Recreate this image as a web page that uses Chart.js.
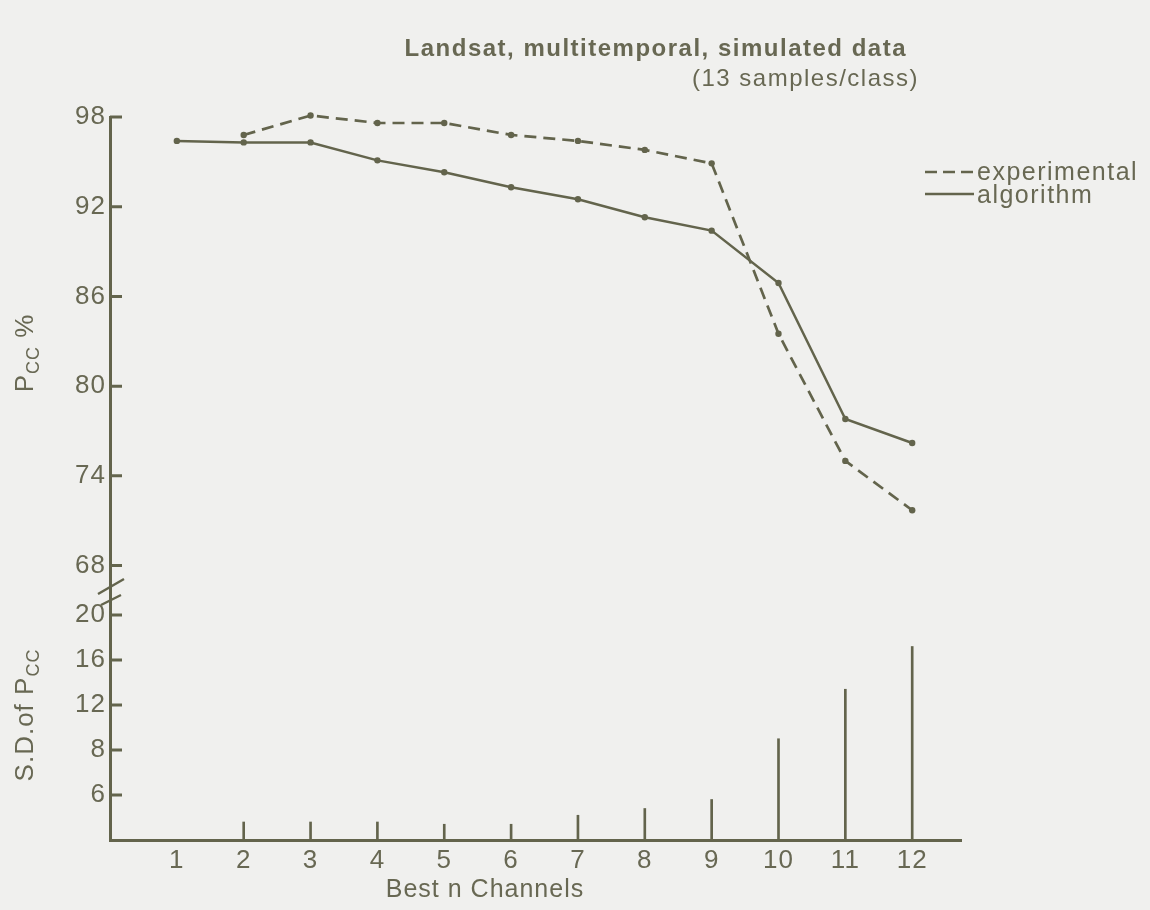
<!DOCTYPE html>
<html>
<head>
<meta charset="utf-8">
<title>Landsat, multitemporal, simulated data</title>
<script src="https://cdn.jsdelivr.net/npm/chart.js@4.4.1/dist/chart.umd.min.js"></script>
<style>
  html, body { margin: 0; padding: 0; background: #f0f0ee; }
  #wrap { width: 1150px; height: 910px; }
</style>
</head>
<body>
<div id="wrap"><canvas id="chart" width="1150" height="910"></canvas></div>
<script>
// valores
const channels = [1, 2, 3, 4, 5, 6, 7, 8, 9, 10, 11, 12];
const algorithm = [96.4, 96.3, 96.3, 95.1, 94.3, 93.3, 92.5, 91.3, 90.4, 86.9, 77.8, 76.2];
const experimental = [null, 96.8, 98.1, 97.6, 97.6, 96.8, 96.4, 95.8, 94.9, 83.5, 75.0, 71.7];
const sdValues = [null, 4.8, 4.8, 4.8, 4.7, 4.7, 5.1, 5.4, 5.8, 9.0, 13.4, 17.2];

const pccTicks = [98, 92, 86, 80, 74, 68];
// o eixo do desvio padrao nao e linear: cada marca fica a mesma distancia
const sdStops = [4, 6, 8, 12, 16, 20];

const ink = "#63644c";
const textInk = "#686853";
const font = "'Liberation Sans', Arial, sans-serif";

// posicao no eixo de baixo (0..5) a partir do valor de S.D.
function toSdPos(v) {
    for (let i = 1; i < sdStops.length; i++) {
        if (v <= sdStops[i]) {
            return i - 1 + (v - sdStops[i - 1]) / (sdStops[i] - sdStops[i - 1]);
        }
    }
    return sdStops.length - 1;
}

const sdBars = [];
sdValues.forEach((v, i) => {
    if (v !== null) sdBars.push({ x: channels[i], y: toSdPos(v) });
});

const extras = {
    id: "extras",
    beforeDraw(chart) {
        chart.ctx.letterSpacing = "1px";
    },
    afterDraw(chart) {
        const c = chart.ctx;
        const left = chart.chartArea.left;
        const yTop = chart.scales.yTop;
        const yBot = chart.scales.yBot;
        c.save();
        c.strokeStyle = ink;
        c.fillStyle = textInk;

        // marcas para dentro do grafico
        c.lineWidth = 3;
        c.beginPath();
        pccTicks.forEach(v => {
            const y = yTop.getPixelForValue(v);
            c.moveTo(left, y);
            c.lineTo(left + 12, y);
        });
        sdStops.forEach((v, i) => {
            if (i === 0) return;
            const y = yBot.getPixelForValue(i);
            c.moveTo(left, y);
            c.lineTo(left + 12, y);
        });
        c.stroke();

        // quebra do eixo
        const yb = yBot.top;
        c.lineWidth = 2.5;
        c.beginPath();
        c.moveTo(left - 12, yb + 6);
        c.lineTo(left + 14, yb - 9);
        c.moveTo(left - 9, yb + 17);
        c.lineTo(left + 11, yb + 7);
        c.stroke();

        // titulo
        c.textBaseline = "alphabetic";
        c.textAlign = "right";
        c.letterSpacing = "1.5px";
        c.font = "bold 24px " + font;
        c.fillText("Landsat, multitemporal, simulated data", 907, 56);
        c.font = "24px " + font;
        c.fillText("(13 samples/class)", 919, 86);

        // legenda
        c.lineWidth = 2.5;
        c.setLineDash([12, 6]);
        c.beginPath();
        c.moveTo(925, 172);
        c.lineTo(973, 172);
        c.stroke();
        c.setLineDash([]);
        c.beginPath();
        c.moveTo(925, 194);
        c.lineTo(974, 194);
        c.stroke();
        c.textAlign = "left";
        c.letterSpacing = "1.5px";
        c.font = "25px " + font;
        c.fillText("experimental", 977, 180);
        c.fillText("algorithm", 977, 203);

        // titulo do eixo x
        c.textAlign = "center";
        c.letterSpacing = "1px";
        c.font = "25px " + font;
        c.fillText("Best n Channels", 485, 897);

        // titulos dos eixos y, com subscrito
        drawRotated(c, 33, 353, "P", "CC", " %");
        drawRotated(c, 33, 715, "S.D.of P", "CC", "");
        c.restore();
    }
};

function drawRotated(c, x, y, main, sub, tail) {
    c.save();
    c.translate(x, y);
    c.rotate(-Math.PI / 2);
    c.font = "26px " + font;
    const w1 = c.measureText(main).width;
    const w3 = c.measureText(tail).width;
    c.font = "18px " + font;
    const w2 = c.measureText(sub).width;
    let px = -(w1 + w2 + w3) / 2;
    c.textAlign = "left";
    c.font = "26px " + font;
    c.fillText(main, px, 0);
    px += w1;
    c.font = "18px " + font;
    c.fillText(sub, px, 6);
    px += w2;
    c.font = "26px " + font;
    c.fillText(tail, px, 0);
    c.restore();
}

function fixWidth(w) {
    return function (scale) { scale.width = w; };
}

const tickFont = { family: font, size: 26 };

new Chart(document.getElementById("chart"), {
    data: {
        datasets: [
            {
                type: "line",
                label: "experimental",
                data: channels.map((n, i) => ({ x: n, y: experimental[i] })),
                yAxisID: "yTop",
                borderColor: ink,
                backgroundColor: ink,
                borderWidth: 2.7,
                borderDash: [12, 7],
                pointRadius: 3.2,
                pointBorderWidth: 0,
                spanGaps: false,
                clip: false
            },
            {
                type: "line",
                label: "algorithm",
                data: channels.map((n, i) => ({ x: n, y: algorithm[i] })),
                yAxisID: "yTop",
                borderColor: ink,
                backgroundColor: ink,
                borderWidth: 2.5,
                pointRadius: 3.2,
                pointBorderWidth: 0,
                clip: false
            },
            {
                type: "bar",
                label: "S.D. of Pcc",
                data: sdBars,
                yAxisID: "yBot",
                backgroundColor: ink,
                barThickness: 2
            }
        ]
    },
    options: {
        responsive: false,
        devicePixelRatio: 1,
        animation: false,
        layout: { padding: { top: 117, right: 189, bottom: 0, left: 0 } },
        plugins: { legend: { display: false }, tooltip: { enabled: false } },
        scales: {
            x: {
                type: "linear",
                min: 0,
                max: 12.73,
                offset: false,
                grid: { display: false, drawTicks: false },
                border: { color: ink, width: 3 },
                afterBuildTicks: s => { s.ticks = channels.map(v => ({ value: v })); },
                afterFit: s => { s.height = 70; },
                ticks: { color: textInk, font: tickFont, padding: 5 }
            },
            yBot: {
                type: "linear",
                position: "left",
                stack: "y",
                stackWeight: 252,
                min: 0,
                max: 5.6,
                grid: { display: false, drawTicks: false },
                border: { color: ink, width: 3 },
                afterBuildTicks: s => { s.ticks = sdStops.slice(1).map((v, i) => ({ value: i + 1 })); },
                afterFit: fixWidth(110),
                ticks: {
                    color: textInk,
                    font: tickFont,
                    padding: 4,
                    callback: v => String(sdStops[v])
                }
            },
            yTop: {
                type: "linear",
                position: "left",
                stack: "y",
                stackWeight: 471,
                min: 66.5,
                max: 98,
                grid: { display: false, drawTicks: false },
                border: { color: ink, width: 3 },
                afterBuildTicks: s => { s.ticks = pccTicks.map(v => ({ value: v })); },
                afterFit: fixWidth(110),
                ticks: { color: textInk, font: tickFont, padding: 4 }
            }
        }
    },
    plugins: [extras]
});
</script>
</body>
</html>
